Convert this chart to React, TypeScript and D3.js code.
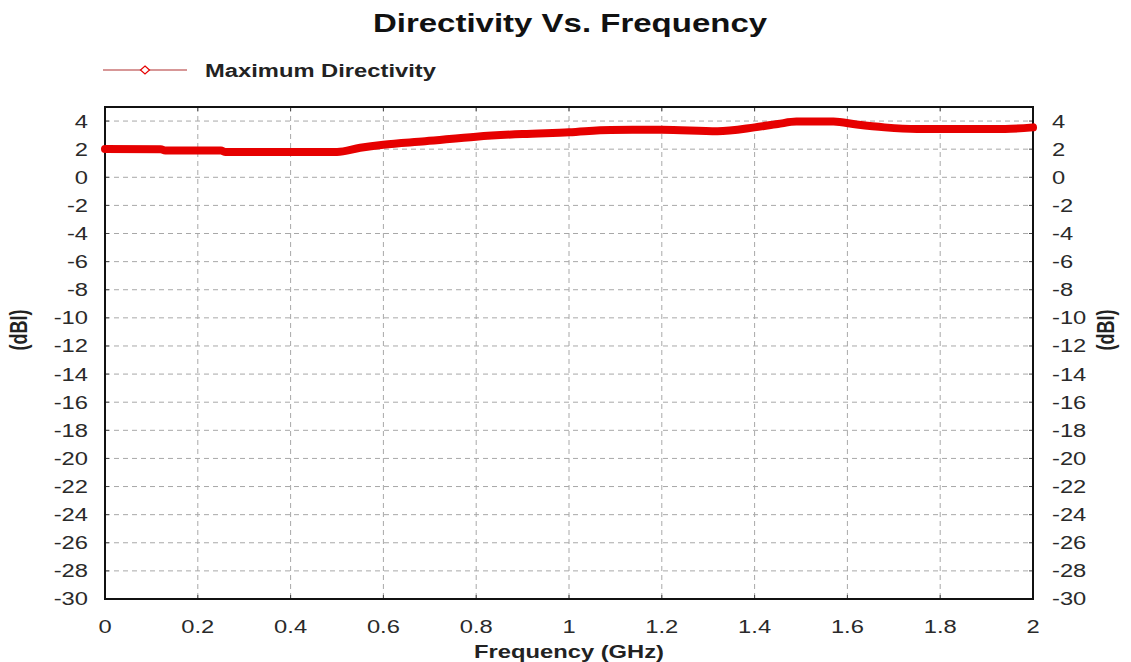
import React from "react";
import * as d3 from "d3";

// Maximum directivity (dBi) sampled over frequency (GHz)
const frequencies = [0, 0.12, 0.13, 0.25, 0.26, 0.5, 0.55, 0.6, 0.69, 0.8, 0.9, 1.0, 1.09, 1.2, 1.32, 1.4, 1.45, 1.49, 1.57, 1.62, 1.68, 1.75, 1.84, 1.94, 2.0];
const directivity = [2.02, 2.0, 1.9, 1.9, 1.8, 1.8, 2.1, 2.32, 2.56, 2.89, 3.08, 3.2, 3.37, 3.38, 3.28, 3.55, 3.79, 3.96, 3.96, 3.75, 3.55, 3.44, 3.44, 3.44, 3.55];

const xTicks = [0, 0.2, 0.4, 0.6, 0.8, 1, 1.2, 1.4, 1.6, 1.8, 2];
const yTicks = d3.range(-30, 5, 2);

const title = "Directivity Vs. Frequency";
const seriesName = "Maximum Directivity";
const xLabel = "Frequency (GHz)";
const yLabel = "(dBI)";

const W = 1131;
const H = 662;
const plot = { left: 105, right: 1033, top: 107, bottom: 599 };
const SX = 1.32; // horizontal stretch applied to all lettering
const FONT = "'Liberation Sans', Arial, sans-serif";
const RED = "#e60000";

export default function App() {
  const x = d3.scaleLinear().domain([0, 2]).range([plot.left, plot.right]);
  const y = d3.scaleLinear().domain([-30, 5]).range([plot.bottom, plot.top]);

  const points: [number, number][] = frequencies.map((f, i) => [f, directivity[i]]);
  const line = d3
    .line<[number, number]>()
    .x((d) => x(d[0]))
    .y((d) => y(d[1]))
    .curve(d3.curveMonotoneX);

  const labelY = 330;

  return (
    <svg
      width={W}
      height={H}
      style={{ position: "absolute", left: 0, top: 0, background: "#fff" }}
      fontFamily={FONT}
    >
      <rect x={0} y={0} width={W} height={H} fill="#fff" />

      {/* title */}
      <text
        transform={`translate(570,32) scale(${SX},1)`}
        textAnchor="middle"
        fontSize={25}
        fontWeight="bold"
        fill="#111"
      >
        {title}
      </text>

      {/* legend */}
      <g>
        <line x1={103} x2={187} y1={70} y2={70} stroke="#b03030" strokeWidth={1.2} />
        <path d="M145,66 L149.5,70 L145,74 L140.5,70 Z" fill="#fff" stroke={RED} strokeWidth={1.2} />
        <text
          transform={`translate(205,77) scale(${SX},1)`}
          fontSize={18}
          fontWeight="bold"
          fill="#222"
        >
          {seriesName}
        </text>
      </g>

      {/* grid */}
      <g stroke="#a8a8a8" strokeWidth={1} strokeDasharray="5,4">
        {yTicks.map((t) => (
          <line key={`gy${t}`} x1={plot.left} x2={plot.right} y1={y(t)} y2={y(t)} />
        ))}
        {xTicks.slice(1, -1).map((t) => (
          <line key={`gx${t}`} x1={x(t)} x2={x(t)} y1={plot.top} y2={plot.bottom} />
        ))}
      </g>

      {/* small tick marks on the frame */}
      <g stroke="#444" strokeWidth={1}>
        {yTicks.map((t) => (
          <React.Fragment key={`ty${t}`}>
            <line x1={plot.left} x2={plot.left + 4} y1={y(t)} y2={y(t)} />
            <line x1={plot.right - 4} x2={plot.right} y1={y(t)} y2={y(t)} />
          </React.Fragment>
        ))}
        {xTicks.map((t) => (
          <React.Fragment key={`tx${t}`}>
            <line x1={x(t)} x2={x(t)} y1={plot.bottom - 4} y2={plot.bottom} />
            <line x1={x(t)} x2={x(t)} y1={plot.top} y2={plot.top + 4} />
          </React.Fragment>
        ))}
      </g>

      {/* frame */}
      <rect
        x={plot.left}
        y={plot.top}
        width={plot.right - plot.left}
        height={plot.bottom - plot.top}
        fill="none"
        stroke="#111"
        strokeWidth={2}
      />

      {/* data */}
      <path
        d={line(points) || ""}
        fill="none"
        stroke={RED}
        strokeWidth={8}
        strokeLinecap="round"
        strokeLinejoin="round"
      />

      {/* y tick labels, left and right */}
      <g fontSize={18} fill="#2a2a2a">
        {yTicks.map((t) => (
          <React.Fragment key={`ly${t}`}>
            <text
              transform={`translate(88,${y(t)}) scale(${SX},1)`}
              textAnchor="end"
              dy="0.36em"
            >
              {t}
            </text>
            <text
              transform={`translate(1052,${y(t)}) scale(${SX},1)`}
              textAnchor="start"
              dy="0.36em"
            >
              {t}
            </text>
          </React.Fragment>
        ))}
      </g>

      {/* x tick labels */}
      <g fontSize={18} fill="#2a2a2a">
        {xTicks.map((t) => (
          <text
            key={`lx${t}`}
            transform={`translate(${x(t)},633) scale(${SX},1)`}
            textAnchor="middle"
          >
            {t}
          </text>
        ))}
      </g>

      {/* axis titles */}
      <text
        transform={`translate(569,658) scale(${SX},1)`}
        textAnchor="middle"
        fontSize={18}
        fontWeight="bold"
        fill="#222"
      >
        {xLabel}
      </text>
      <text
        transform={`translate(27,${labelY}) scale(${SX},1) rotate(-90)`}
        textAnchor="middle"
        fontSize={18}
        fontWeight="bold"
        fill="#222"
      >
        {yLabel}
      </text>
      <text
        transform={`translate(1114,${labelY}) scale(${SX},1) rotate(-90)`}
        textAnchor="middle"
        fontSize={18}
        fontWeight="bold"
        fill="#222"
      >
        {yLabel}
      </text>
    </svg>
  );
}
